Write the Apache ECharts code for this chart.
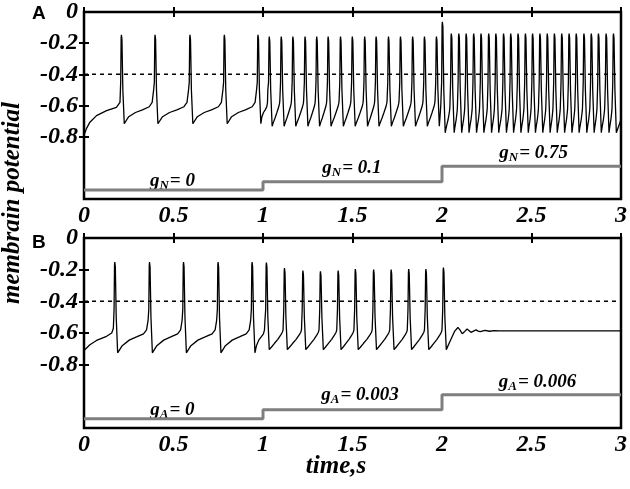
<!DOCTYPE html>
<html>
<head>
<meta charset="utf-8">
<title>membrain potential</title>
<script src="https://cdn.jsdelivr.net/npm/echarts@6/dist/echarts.min.js"></script>
<style>
    html, body { margin: 0; padding: 0; background: #fff; }
    #chart { width: 630px; height: 489px; }
</style>
</head>
<body>
<div id="chart"></div>
<script>
// axis ticks / labels
var xTicks = [0, 0.5, 1, 1.5, 2, 2.5, 3];
var yLabels = [-0.8, -0.6, -0.4, -0.2, 0];
var yTicks = [-0.8, -0.6, -0.4, -0.2];
var threshold = -0.4;

// phases of the recovery between trough and next upstroke
var recPhase = [0, 0.15, 0.38, 0.62, 0.85, 0.95, 1];

// ---- panel A ----
var startA = [[0, -0.79], [0.015, -0.745], [0.033, -0.707], [0.07, -0.665], [0.126, -0.633], [0.181, -0.612], [0.201, -0.58]];
// spike peaks [time, peak]
var spikesA = [
    [0.209, -0.147], [0.397, -0.147], [0.592, -0.147], [0.784, -0.147], [0.972, -0.147],
    [1.035, -0.158], [1.102, -0.158], [1.167, -0.158], [1.235, -0.158], [1.300, -0.158],
    [1.364, -0.158], [1.433, -0.158], [1.499, -0.158], [1.568, -0.158], [1.632, -0.158],
    [1.701, -0.158], [1.768, -0.158], [1.836, -0.158], [1.902, -0.158], [1.969, -0.158],
    [2.002, -0.063], [2.052, -0.138], [2.094, -0.138], [2.135, -0.138], [2.177, -0.138],
    [2.218, -0.138], [2.261, -0.138], [2.301, -0.138], [2.344, -0.138], [2.384, -0.138],
    [2.425, -0.138], [2.466, -0.138], [2.506, -0.138], [2.547, -0.138], [2.588, -0.138],
    [2.628, -0.138], [2.669, -0.138], [2.710, -0.138], [2.750, -0.138], [2.793, -0.138],
    [2.834, -0.138], [2.874, -0.138], [2.917, -0.138], [2.958, -0.138]
];
// recovery values (trough first) for g_N = 0, 0.1, 0.75
var recA = [
    [-0.717, -0.672, -0.645, -0.628, -0.608, -0.58, -0.5],
    [-0.733, -0.71, -0.68, -0.645, -0.61, -0.59, -0.57],
    [-0.775, -0.75, -0.72, -0.69, -0.65, -0.63, -0.61]
];
var endA = [[3.0, -0.69]];
var stepsA = [[0, -1.143], [1, -1.09], [2, -0.99], [3, -0.99]];

// ---- panel B ----
var startB = [[0, -0.71], [0.033, -0.674], [0.07, -0.647], [0.126, -0.621], [0.155, -0.6], [0.164, -0.57]];
var spikesB = [
    [0.172, -0.152], [0.366, -0.152], [0.556, -0.152], [0.749, -0.152], [0.939, -0.152],
    [1.019, -0.155], [1.12, -0.19], [1.223, -0.205], [1.321, -0.21], [1.42, -0.205],
    [1.516, -0.196], [1.618, -0.2], [1.716, -0.2], [1.814, -0.196], [1.91, -0.196], [2.008, -0.186]
];
var recB = [
    [-0.725, -0.68, -0.645, -0.625, -0.605, -0.58, -0.52],
    [-0.705, -0.69, -0.665, -0.64, -0.61, -0.595, -0.58],
    [-0.705, -0.69, -0.665, -0.64, -0.61, -0.595, -0.58]
];
// damped ringing after spiking stops
var endB = [[2.05, -0.64], [2.07, -0.59], [2.089, -0.565], [2.1, -0.58], [2.113, -0.605], [2.127, -0.59],
    [2.14, -0.575], [2.151, -0.587], [2.162, -0.596], [2.176, -0.588], [2.19, -0.58], [2.202, -0.588],
    [2.214, -0.592], [2.24, -0.583], [2.265, -0.589], [2.29, -0.585], [2.32, -0.587], [3.0, -0.586]];
var stepsB = [[0, -1.141], [1, -1.085], [2, -0.99], [3, -0.99]];

// conductance annotations
var notesA = [['N', '0', 0.494, -1.086], ['N', '0.1', 1.497, -1.003], ['N', '0.75', 2.512, -0.908]];
var notesB = [['A', '0', 0.494, -1.085], ['A', '0.003', 1.542, -0.99], ['A', '0.006', 2.534, -0.908]];

function buildTrace(start, spikes, rec, end) {
    var pts = start.slice();
    for (var i = 0; i < spikes.length; i++) {
        var tp = spikes[i][0], pk = spikes[i][1];
        var r = rec[tp < 1 ? 0 : (tp < 2 ? 1 : 2)];
        pts.push([tp - 0.004, -0.45], [tp - 0.0015, pk - 0.02], [tp, pk],
            [tp + 0.003, pk - 0.03], [tp + 0.008, -0.5], [tp + 0.016, r[0]]);
        if (i < spikes.length - 1) {
            var t0 = tp + 0.016, t1 = spikes[i + 1][0] - 0.008;
            for (var k = 1; k < recPhase.length; k++) {
                pts.push([t0 + (t1 - t0) * recPhase[k], r[k]]);
            }
        }
    }
    return pts.concat(end);
}

var serifBI = { fontFamily: 'Liberation Serif', fontStyle: 'italic', fontWeight: 'bold', color: '#000' };

function xAx(gi, pos) {
    return {
        type: 'value', gridIndex: gi, position: pos, min: 0, max: 3, interval: 0.5,
        axisLine: { show: false },
        axisTick: { show: true, inside: true, length: 5, lineStyle: { color: '#000', width: 2 } },
        axisLabel: pos === 'bottom' ? Object.assign({ show: true, fontSize: 24, margin: 5 }, serifBI) : { show: false },
        splitLine: { show: false }
    };
}
function yAx(gi, pos) {
    return {
        type: 'value', gridIndex: gi, position: pos, min: -1.2, max: 0,
        axisLine: { show: false },
        axisTick: { show: true, inside: true, length: 5, customValues: yTicks, lineStyle: { color: '#000', width: 2 } },
        axisLabel: pos === 'left' ? Object.assign({ show: true, fontSize: 24, margin: 6, customValues: yLabels }, serifBI) : { show: false },
        splitLine: { show: false }
    };
}
function noteSeries(notes, xi, yi) {
    return {
        type: 'scatter', xAxisIndex: xi, yAxisIndex: yi, symbolSize: 1, silent: true,
        itemStyle: { color: 'rgba(255,255,255,0)' },
        data: notes.map(function (n) { return { value: [n[2], n[3]], sub: n[0], val: n[1] }; }),
        label: {
            show: true, position: 'inside', color: '#000', opacity: 1, textBorderWidth: 0,
            formatter: function (p) { return '{g|g}{s|' + p.data.sub + '}{g|= ' + p.data.val + '}'; },
            rich: {
                g: Object.assign({ fontSize: 19 }, serifBI),
                s: Object.assign({ fontSize: 13, padding: [9, 1, 0, 0] }, serifBI)
            }
        }
    };
}
function panelSeries(trace, steps, xi, yi) {
    return [
        { type: 'line', xAxisIndex: xi, yAxisIndex: yi, data: trace, showSymbol: false, silent: true,
          lineStyle: { color: '#000', width: 1.3 } },
        { type: 'line', xAxisIndex: xi, yAxisIndex: yi, data: [[0, threshold], [3, threshold]], showSymbol: false,
          silent: true, lineStyle: { color: '#000', width: 1.5, type: [4, 4] } },
        { type: 'line', xAxisIndex: xi, yAxisIndex: yi, data: steps, step: 'end', showSymbol: false, silent: true,
          lineStyle: { color: '#7f7f7f', width: 3 } }
    ];
}

var chart = echarts.init(document.getElementById('chart'), null, { renderer: 'canvas' });
var option = {
    animation: false,
    backgroundColor: '#fff',
    grid: [
        { left: 84, top: 10, width: 541, height: 189, show: true, borderColor: '#000', borderWidth: 2.5 },
        { left: 84, top: 238, width: 541, height: 190, show: true, borderColor: '#000', borderWidth: 2.5 }
    ],
    xAxis: [xAx(0, 'bottom'), xAx(0, 'top'), xAx(1, 'bottom'), xAx(1, 'top')],
    yAxis: [yAx(0, 'left'), yAx(0, 'right'), yAx(1, 'left'), yAx(1, 'right')],
    series: [].concat(
        panelSeries(buildTrace(startA, spikesA, recA, endA), stepsA, 0, 0),
        panelSeries(buildTrace(startB, spikesB, recB, endB), stepsB, 2, 2),
        [noteSeries(notesA, 0, 0), noteSeries(notesB, 2, 2)]
    ),
    graphic: [
        { type: 'text', left: 32, top: 4, style: { text: 'A', font: 'bold 19px "Liberation Sans"', fill: '#000' } },
        { type: 'text', left: 32, top: 233, style: { text: 'B', font: 'bold 19px "Liberation Sans"', fill: '#000' } },
        { type: 'text', x: 13, y: 203, rotation: Math.PI / 2,
          style: { text: 'membrain potential', font: 'italic bold 25px "Liberation Serif"', fill: '#000',
                   textAlign: 'center', textVerticalAlign: 'middle' } },
        { type: 'text', x: 336, y: 467,
          style: { text: 'time,s', font: 'italic bold 25px "Liberation Serif"', fill: '#000',
                   textAlign: 'center', textVerticalAlign: 'middle' } }
    ]
};
chart.setOption(option);
window.onresize = function () { chart.resize(); };
</script>
</body>
</html>
